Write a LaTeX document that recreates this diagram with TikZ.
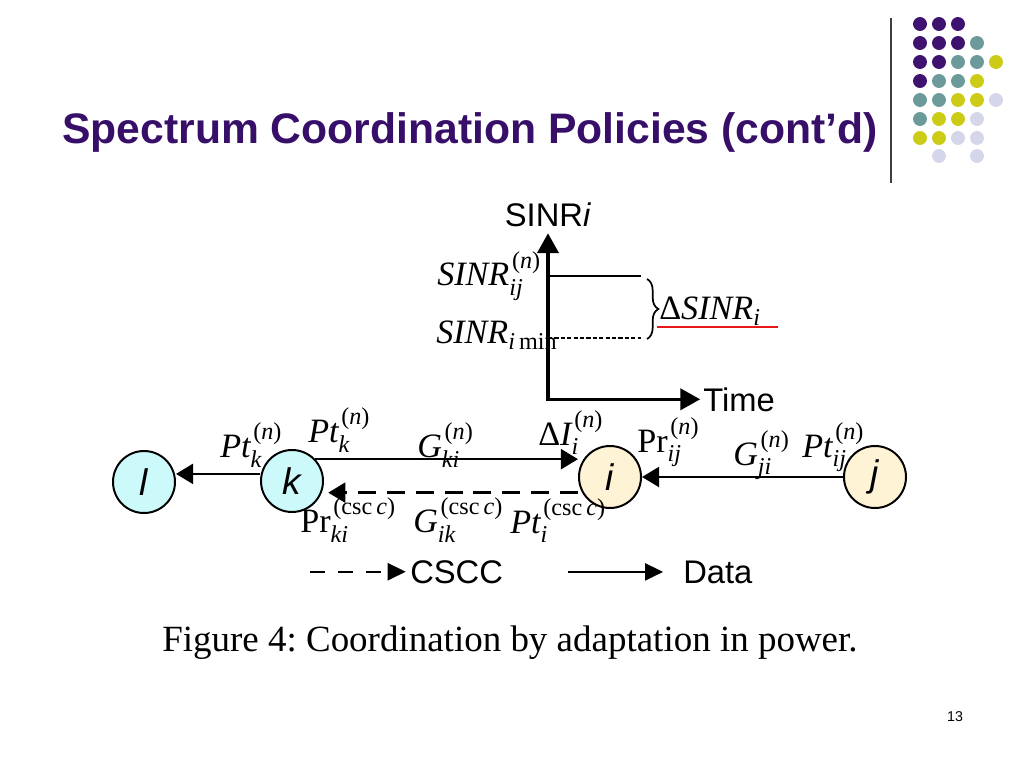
\documentclass[tikz,border=0pt]{standalone}
\usepackage{fontspec}
\setmainfont{Liberation Serif}
\setsansfont{Liberation Sans}
\usepackage{amsmath}
\usepackage{tikz}
\usetikzlibrary{arrows.meta, positioning, decorations.pathreplacing, calc}
\definecolor{titlepurple}{RGB}{55,15,105}
\definecolor{dotpurple}{RGB}{62,18,110}
\definecolor{dotteal}{RGB}{108,154,155}
\definecolor{dotyellow}{RGB}{204,204,22}
\definecolor{dotlilac}{RGB}{214,214,234}
\definecolor{stationcyan}{RGB}{204,250,250}
\definecolor{stationcream}{RGB}{255,243,214}
\definecolor{markred}{RGB}{232,22,22}
\DeclareMathSizes{24}{24}{17}{12}

\newcommand{\supn}{\textup{(}\textit{n}\textup{)}}
\newcommand{\supc}{\textup{(csc\,}\textit{c}\textup{)}}
\newcommand{\symb}[3]{$\text{#1}^{\mkern2mu\text{#2}}_{\text{\itshape #3}}$}

\begin{document}
\frenchspacing
\begin{tikzpicture}[
    x=0.703125pt, y=-0.703125pt,
    station/.style={circle, draw, line width=1.4pt, minimum size=43.6pt, inner sep=0pt, font=\sffamily\itshape\fontsize{26}{30}\selectfont},
    lab/.style={anchor=base west, inner sep=0pt, font=\fontsize{24}{28}\selectfont},
    sanslab/.style={inner sep=0pt, font=\sffamily\fontsize{23}{27}\selectfont},
    data/.style={-{Triangle[length=12pt, width=14pt]}, line width=1.8pt},
    cscc/.style={data, dash pattern=on 12.6pt off 7.7pt},
    axisarrow/.style={{Triangle[length=14pt, width=15pt]}-{Triangle[length=14pt, width=15pt]}, line width=2.3pt}
]
\useasboundingbox (0,0) rectangle (1024,768);

% slide title and decoration
\node[anchor=base west, inner sep=0pt, text=titlepurple, font=\sffamily\bfseries\fontsize{30}{36}\selectfont] (title) at (62,144) {Spectrum Coordination Policies (cont’d)};
\draw[line width=0.9pt, black!75] (891,18) -- (891,183);
\foreach \cols [count=\r from 0] in {{dotpurple,dotpurple,dotpurple},
    {dotpurple,dotpurple,dotpurple,dotteal},
    {dotpurple,dotpurple,dotteal,dotteal,dotyellow},
    {dotpurple,dotteal,dotteal,dotyellow},
    {dotteal,dotteal,dotyellow,dotyellow,dotlilac},
    {dotteal,dotyellow,dotyellow,dotlilac},
    {dotyellow,dotyellow,dotlilac,dotlilac}}
  \foreach \c [count=\k from 0] in \cols
    \fill[\c] (920+19*\k,24+19*\r) circle (4.9pt);
\fill[dotlilac] (939,156) circle (4.9pt);
\fill[dotlilac] (977,156) circle (4.9pt);

% SINR over time
\node[sanslab, anchor=base] (sinrlab) at (548,227) {SINR\textit{i}};
\node[sanslab, anchor=base west] (timelab) at (703,411) {Time};
\draw[axisarrow] ([yshift=-4pt]sinrlab.south) |- ([xshift=-2pt]timelab.west);
\draw[line width=1.5pt] (548,276) -- (641,276);
\draw[line width=1.4pt, dash pattern=on 3pt off 1.5pt] (548,338) -- (641,338);
\draw[decorate, decoration={brace, amplitude=8pt}, line width=1.2pt] (647,279) -- (647,339);
\node[lab] (sinrij) at (437,286) {\symb{\itshape SINR}{\supn}{ij}};
\node[lab] (sinrmin) at (436,344) {$\text{\itshape SINR}_{\text{\itshape i}\,\text{min}}$};
\node[lab] (dsinr) at (659,320) {$\text{Δ\itshape SINR}_{\text{\itshape i}}$};
\draw[markred, line width=2.1pt] (657,327) -- (778,327);

% stations
\node[station, fill=stationcyan] (l) at (144,482) {l};
\node[station, fill=stationcyan] (k) at (292,481) {k};
\node[station, fill=stationcream] (i) at (610,477) {i};
\node[station, fill=stationcream] (j) at (875,477) {j};

\draw[data] ([yshift=5pt]k.west) -- ([yshift=5pt]k.west -| l.east);
\draw[data] (k.43) -- (k.43 -| i.west);
\draw[cscc, shorten >=3pt] ([yshift=-11pt]i.west) -- ([yshift=-11pt]i.west -| k.east);
\draw[data] (j.west) -- (i.east);

% power and gain labels
\node[lab] (ptkl) at (220,457) {\symb{\itshape Pt}{\supn}{k}};
\node[lab] (ptk) at (308,442) {\symb{\itshape Pt}{\supn}{k}};
\node[lab] (gki) at (417,457) {\symb{\itshape G}{\supn}{ki}};
\node[lab] (dii) at (538,445) {\symb{Δ\itshape I}{\supn}{i}};
\node[lab] (prij) at (637,452) {\symb{Pr}{\supn}{ij}};
\node[lab] (gji) at (733,465) {\symb{\itshape G}{\supn}{ji}};
\node[lab] (ptij) at (802,457) {\symb{\itshape Pt}{\supn}{ij}};
\node[lab] (prki) at (300,532) {\symb{Pr}{\supc}{ki}};
\node[lab] (gik) at (413,532) {\symb{\itshape G}{\supc}{ik}};
\node[lab] (pti) at (510,533) {\symb{\itshape Pt}{\supc}{i}};

% legend
\node[sanslab, anchor=base west] (cscclab) at (410,583) {CSCC};
\node[sanslab, anchor=base west] (datalab) at (683,583) {Data};
\draw[-{Triangle[length=12.7pt, width=12pt]}, line width=1.5pt, dash pattern=on 10.5pt off 9pt] ([xshift=-70pt]cscclab.west) -- ([xshift=-3pt]cscclab.west);
\draw[-{Triangle[length=12.7pt, width=12pt]}, line width=1.5pt] ([xshift=-81pt]datalab.west) -- ([xshift=-14pt]datalab.west);

% caption and page number
\node[anchor=base west, inner sep=0pt, font=\fontsize{26}{30}\selectfont] (caption) at (162,651) {Figure 4: Coordination by adaptation in power.};
\node[anchor=base, inner sep=0pt, font=\sffamily\fontsize{10}{12}\selectfont] (pagenum) at (955,721) {13};
\end{tikzpicture}
\end{document}
